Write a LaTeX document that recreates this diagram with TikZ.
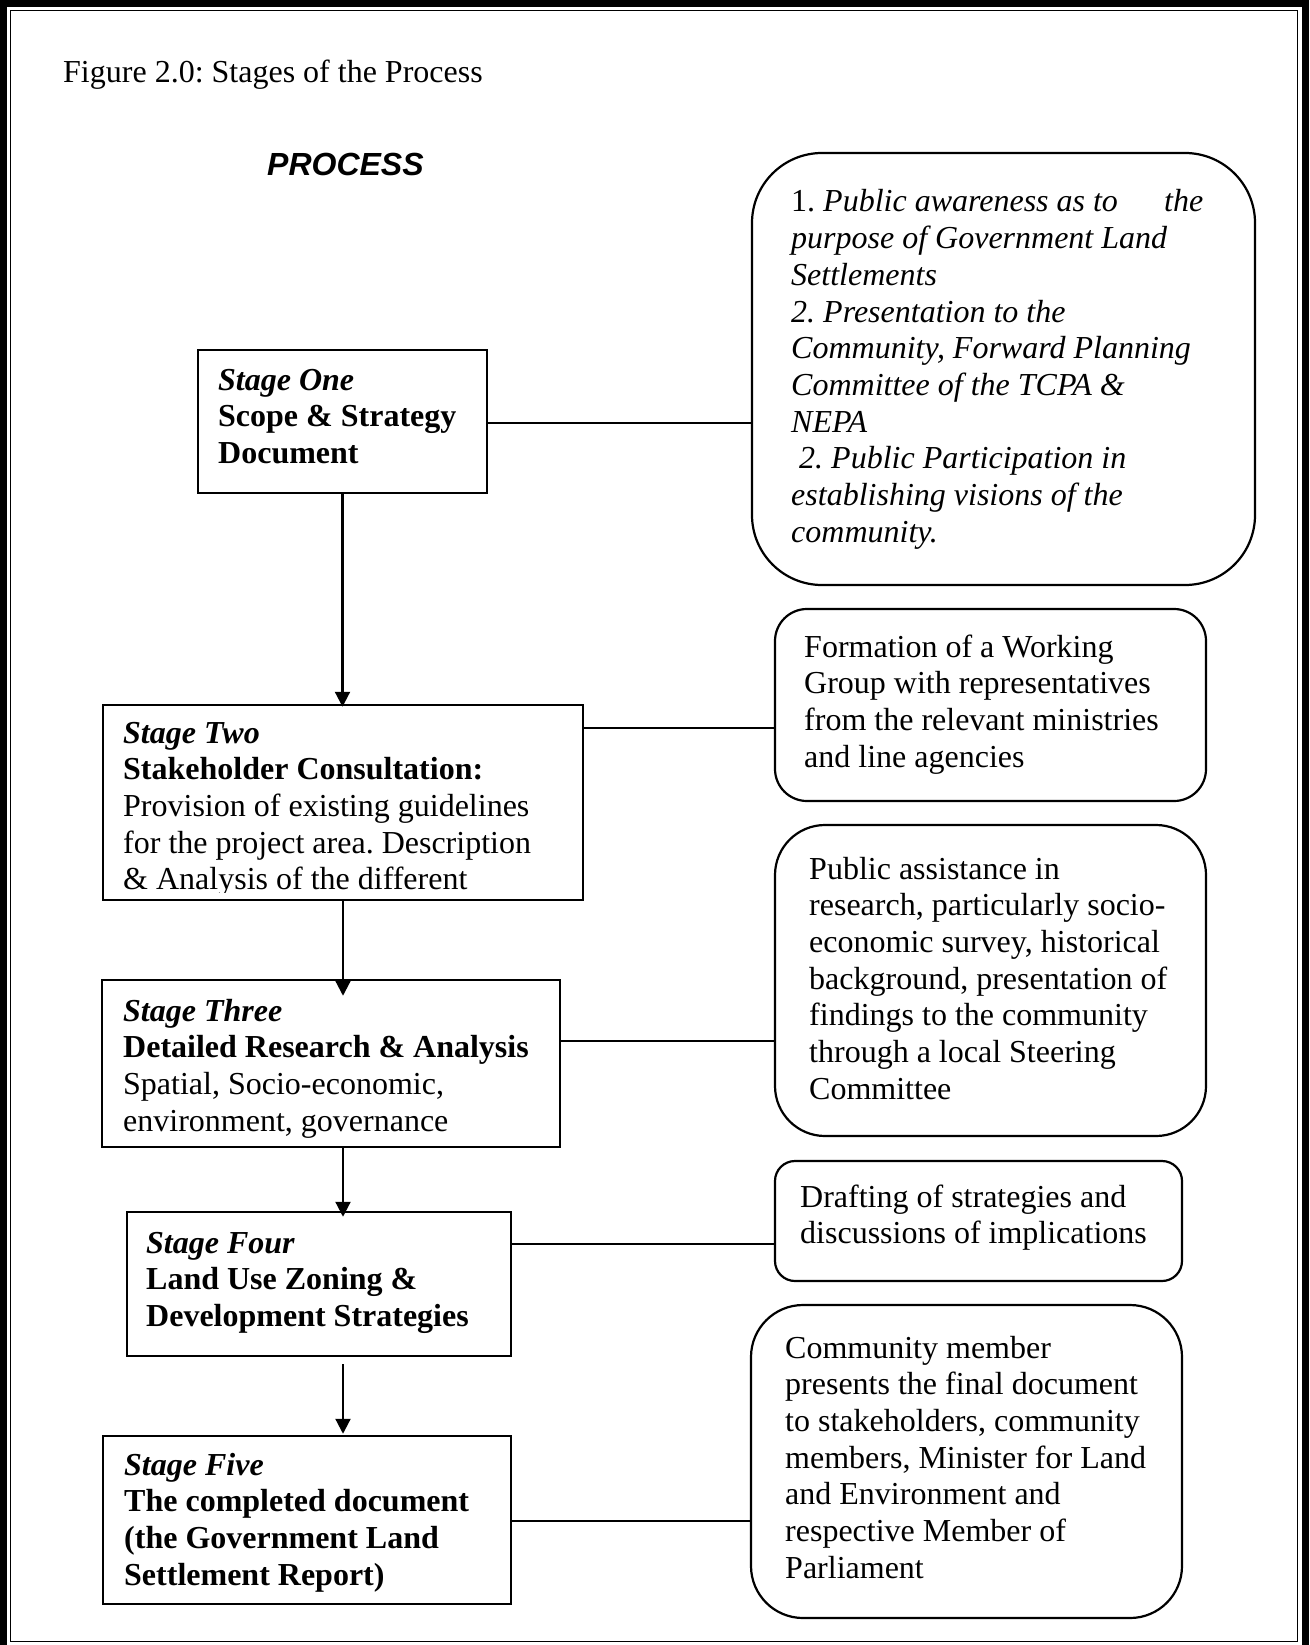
\documentclass[tikz,border=0pt]{standalone}
\usepackage{fontspec}
\setmainfont{Liberation Serif}
\newfontfamily\arialfont{Liberation Sans}
\usetikzlibrary{arrows.meta,calc}
\frenchspacing
\newcommand\mylines[1]{\begin{tabular}[t]{@{}l@{}}#1\end{tabular}}
\tikzset{
  txt/.style={inner sep=0pt, anchor=base west, font=\fontsize{32}{36.7}\selectfont\frenchspacing},
  stagebox/.style={draw, line width=2.5pt, inner sep=0pt, rectangle},
  roundbox/.style={draw, line width=2.2pt, inner sep=0pt, rectangle, rounded corners=#1},
  conn/.style={line width=2.2pt},
  arr/.style={line width=2.2pt, -{Triangle[width=15pt,length=15pt]}},
}
\begin{document}
\begin{tikzpicture}[x=1pt,y=-1pt]
\useasboundingbox (0,0) rectangle (1309,1645);
% frame
\draw[line width=7pt] (3.5,3.5) rectangle (1305.5,1665);
\draw[line width=1.5pt] (10.5,10.5) rectangle (1297.5,1641.5);

% titles
\node[txt] (title) at (63,83) {Figure 2.0: Stages of the Process};
\node[txt, font=\fontsize{32}{36.7}\arialfont\bfseries\itshape] (proc) at (267,176) {PROCESS};

% stage boxes
\node[stagebox, minimum width=289pt, minimum height=143pt] (s1) at (342.5,421.5) {};
\node[stagebox, minimum width=480pt, minimum height=195pt] (s2) at (343,802.5) {};
\node[stagebox, minimum width=458pt, minimum height=167pt] (s3) at (331,1063.5) {};
\node[stagebox, minimum width=384pt, minimum height=144pt] (s4) at (319,1284) {};
\node[stagebox, minimum width=408pt, minimum height=168pt] (s5) at (307,1520) {};

% right rounded boxes
\node[roundbox=70pt, minimum width=503pt, minimum height=432pt] (r1) at (1003.5,369) {};
\node[roundbox=32pt, minimum width=431pt, minimum height=192pt] (r2) at (990.5,705) {};
\node[roundbox=50pt, minimum width=431pt, minimum height=311pt] (r3) at (990.5,980.5) {};
\node[roundbox=20pt, minimum width=407pt, minimum height=120pt] (r4) at (978.5,1221) {};
\node[roundbox=52pt, minimum width=431pt, minimum height=313pt] (r5) at (966.5,1461.5) {};

% stage texts
\node[txt] (s1t) at (218,390) {\mylines{\textbf{\textit{Stage One}}\\ \textbf{Scope \& Strategy}\\ \textbf{Document}}};
\begin{scope}
\clip (103,705) rectangle (583,892);
\node[txt] (s2t) at (123,743) {\mylines{\textbf{\textit{Stage Two}}\\ \textbf{Stakeholder Consultation:}\\ Provision of existing guidelines\\ for the project area. Description\\ \& Analysis of the different}};
\end{scope}
\node[txt] (s3t) at (123,1021) {\mylines{\textbf{\textit{Stage Three}}\\ \textbf{Detailed Research \& Analysis}\\ Spatial, Socio-economic,\\ environment, governance}};
\node[txt] (s4t) at (146,1253) {\mylines{\textbf{\textit{Stage Four}}\\ \textbf{Land Use Zoning \&}\\ \textbf{Development Strategies}}};
\node[txt] (s5t) at (124,1475) {\mylines{\textbf{\textit{Stage Five}}\\ \textbf{The completed document}\\ \textbf{(the Government Land}\\ \textbf{Settlement Report)}}};

% right texts
\node[txt] (r1t) at (791,212) {\mylines{\hbox to 412pt{1. \textit{Public awareness as to}\hfill\textit{the}}\\
\textit{purpose of Government Land}\\ \textit{Settlements}\\ \textit{2. Presentation to the}\\
\textit{Community, Forward Planning}\\ \textit{Committee of the TCPA \&}\\ \textit{NEPA}\\
\textit{\ 2. Public Participation in}\\ \textit{establishing visions of the}\\ \textit{community.}}};
\node[txt] (r2t) at (804,657) {\mylines{Formation of a Working\\ Group with representatives\\ from the relevant ministries\\ and line agencies}};
\node[txt] (r3t) at (809,879) {\mylines{Public assistance in\\ research, particularly socio-\\ economic survey, historical\\ background, presentation of\\ findings to the community\\ through a local Steering\\ Committee}};
\node[txt] (r4t) at (800,1207) {\mylines{Drafting of strategies and\\ discussions of implications}};
\node[txt] (r5t) at (785,1358) {\mylines{Community member\\ presents the final document\\ to stakeholders, community\\ members, Minister for Land\\ and Environment and\\ respective Member of\\ Parliament}};

% connector heights
\coordinate (c1) at (0,423);
\coordinate (c2) at (0,728);
\coordinate (c3) at (0,1041);
\coordinate (c4) at (0,1244);
\coordinate (c5) at (0,1521);
\draw[conn] (s1.east |- c1) -- (r1.west |- c1);
\draw[conn] (s2.east |- c2) -- (r2.west |- c2);
\draw[conn] (s3.east |- c3) -- (r3.west |- c3);
\draw[conn] (s4.east |- c4) -- (r4.west |- c4);
\draw[conn] (s5.east |- c5) -- (r5.west |- c5);

% arrows
\draw[arr] (s1.south) -- ($(s1.south |- s2.north)+(0,3)$);
\draw[arr] (s2.south) -- ($(s2.south |- s3.north)+(0,17)$);
\draw[arr] (s2.south |- s3.south) -- ($(s2.south |- s4.north)+(0,6)$);
\draw[arr] ($(s2.south |- s4.south)+(0,7)$) -- ($(s2.south |- s5.north)+(0,-1)$);
\end{tikzpicture}
\end{document}
